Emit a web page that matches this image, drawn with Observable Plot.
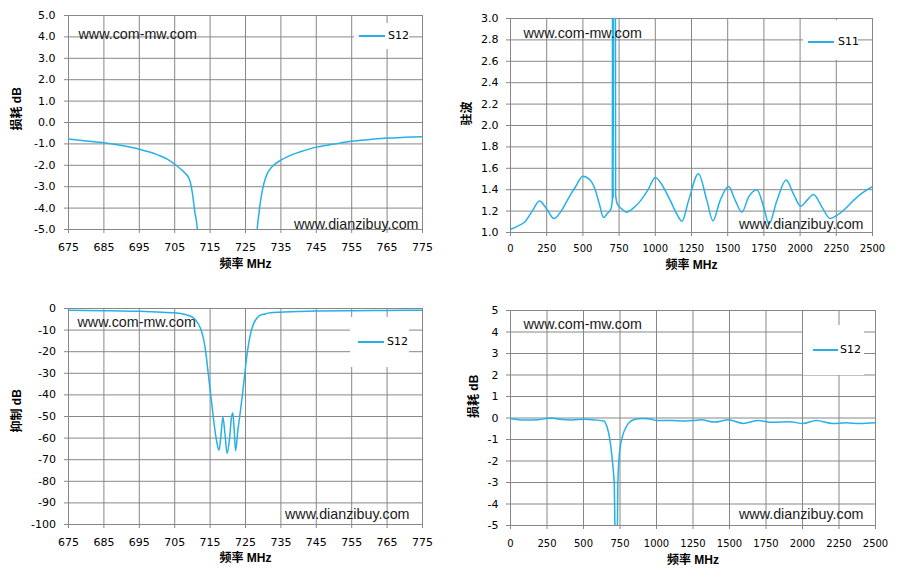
<!DOCTYPE html>
<html>
<head>
<meta charset="utf-8">
<script src="https://cdn.jsdelivr.net/npm/d3@7"></script>
<script src="https://cdn.jsdelivr.net/npm/@observablehq/plot@0.6"></script>
<style>
  body { margin: 0; background: #fff; }
  #wrap { position: relative; width: 898px; height: 583px; overflow: hidden; background: #fff; }
  .panel { position: absolute; }
  .legend { position: absolute; background: #fff; }
  .legend .ln { position: absolute; height: 1.5px; }
  .legend .lt { position: absolute; font: 11px "DejaVu Sans", sans-serif; color: #000; line-height: 12px; }
</style>
</head>
<body>
<div id="wrap"></div>
<script>
// ---------- data ----------
// Panel 1: S12 loss, zoomed (675–775 MHz, -5..5 dB)
const p1Freq = [675, 680, 685, 690, 695, 700, 703, 705, 707, 708, 709, 709.5, 710, 710.7, 711.4, 712, 713, 715, 720, 725, 727, 728, 728.3, 728.8, 729.4, 730.2, 731.1, 732.5, 735, 737.5, 740.5, 745, 750, 755, 760, 765, 770, 775];
const p1Loss = [-0.77, -0.86, -0.95, -1.08, -1.25, -1.5, -1.72, -1.95, -2.22, -2.38, -2.6, -2.85, -3.3, -4.2, -5.0, -7, -11, -30, -67, -30, -10, -6, -5.0, -4.25, -3.5, -2.85, -2.4, -2.07, -1.76, -1.55, -1.37, -1.15, -1.01, -0.88, -0.8, -0.73, -0.69, -0.66];
const p1XTicks = [675, 685, 695, 705, 715, 725, 735, 745, 755, 765, 775];
const p1YTicks = [-5, -4, -3, -2, -1, 0, 1, 2, 3, 4, 5];

// Panel 2: S11 VSWR (0–2500 MHz)
const p2Freq = [0, 50, 100, 150, 200, 250, 300, 350, 400, 450, 500, 550, 585, 615, 642, 670, 693, 703, 705.5, 709, 712, 724, 726, 740, 770, 800, 850, 900, 950, 1000, 1034, 1103, 1150, 1184, 1230, 1298, 1356, 1398, 1448, 1506, 1552, 1598, 1644, 1702, 1748, 1785, 1840, 1904, 1954, 2005, 2047, 2093, 2150, 2208, 2254, 2310, 2369, 2430, 2500];
const p2Vswr = [1.03, 1.06, 1.10, 1.20, 1.295, 1.22, 1.13, 1.20, 1.32, 1.43, 1.525, 1.49, 1.40, 1.26, 1.14, 1.18, 1.22, 1.30, 4.0, 1.32, 4.0, 4.0, 1.35, 1.26, 1.22, 1.19, 1.23, 1.30, 1.40, 1.515, 1.47, 1.30, 1.17, 1.105, 1.30, 1.55, 1.30, 1.11, 1.30, 1.43, 1.30, 1.19, 1.33, 1.40, 1.24, 1.08, 1.30, 1.49, 1.36, 1.245, 1.30, 1.355, 1.24, 1.13, 1.16, 1.22, 1.30, 1.37, 1.43];
const p2XTicks = [0, 250, 500, 750, 1000, 1250, 1500, 1750, 2000, 2250, 2500];
const p2YTicks = [1.0, 1.2, 1.4, 1.6, 1.8, 2.0, 2.2, 2.4, 2.6, 2.8, 3.0];

// Panel 3: S12 rejection (675–775 MHz, -100..0 dB)
const p3Freq = [675, 685, 695, 700, 705, 708, 710, 711, 712.3, 713, 713.7, 714.4, 715.1, 715.6, 716.1, 716.8, 717.5, 718.0, 718.6, 719.2, 719.8, 720.5, 721.0, 721.4, 721.8, 722.2, 722.8, 723.6, 724.2, 724.7, 725.3, 725.9, 726.6, 727.3, 728.2, 729.2, 730.5, 732, 735, 740, 745, 755, 765, 775];
const p3Rej = [-0.8, -1.0, -1.3, -1.6, -2.0, -2.8, -4.0, -5.5, -9.3, -13, -19.3, -29, -39, -46, -53, -61, -65.6, -60, -50.2, -58, -67.1, -60, -51, -48.3, -56, -65.9, -57, -47, -39, -31.7, -23, -16.2, -10.5, -7, -4.5, -3.1, -2.5, -2.0, -1.7, -1.4, -1.2, -1.0, -0.9, -0.8];
const p3XTicks = p1XTicks;
const p3YTicks = [-100, -90, -80, -70, -60, -50, -40, -30, -20, -10, 0];

// Panel 4: S12 loss wideband (0–2500 MHz, -5..5 dB)
const p4Freq = [0, 98, 190, 281, 338, 418, 509, 578, 642, 660, 675, 693, 705, 711, 716, 720, 728, 732, 735, 746, 772, 790, 806, 852, 909, 966, 1000, 1103, 1194, 1251, 1307, 1398, 1491, 1593, 1696, 1798, 1911, 2003, 2094, 2207, 2298, 2389, 2500];
const p4Loss = [-0.03, -0.09, -0.08, 0.0, -0.06, -0.09, -0.06, -0.09, -0.15, -0.4, -0.8, -1.67, -2.5, -3.1, -5.5, -8, -8, -5.5, -3.07, -1.67, -0.74, -0.45, -0.26, -0.06, -0.02, -0.06, -0.12, -0.12, -0.14, -0.12, -0.08, -0.19, -0.08, -0.25, -0.12, -0.2, -0.17, -0.26, -0.12, -0.26, -0.22, -0.26, -0.22];
const p4XTicks = p2XTicks;
const p4YTicks = [-5, -4, -3, -2, -1, 0, 1, 2, 3, 4, 5];

const xTitle = "频率 MHz";
const wmTop = "www.com-mw.com";
const wmBottom = "www.dianzibuy.com";

// ---------- style ----------
const lineColor = "#25b1e7";
const gridColor = "#878787";
const tickFont = "DejaVu Sans, sans-serif";
const cjkBold = "Liberation Sans, Noto Sans CJK SC, sans-serif";

function panel(o) {
  const rows = o.freq.map((f, i) => ({f, v: o.vals[i]}));
  const plot = Plot.plot({
    width: o.w, height: o.h,
    marginLeft: o.ml, marginRight: o.mr, marginTop: o.mt, marginBottom: o.mb,
    style: {fontFamily: tickFont, fontSize: "11px", background: "#fff", color: "#000", overflow: "visible"},
    x: {domain: o.xDomain, label: null},
    y: {domain: o.yDomain, label: null},
    marks: [
      Plot.gridX(o.xTicks, {stroke: gridColor, strokeOpacity: 1, strokeWidth: 1}),
      Plot.gridY(o.yTicks, {stroke: gridColor, strokeOpacity: 1, strokeWidth: 1}),
      Plot.axisX(o.xTicks, {tickSize: 4, tickPadding: o.xPad, stroke: gridColor, fill: "#000", fontSize: o.xFont, tickFormat: d => String(d), label: null}),
      Plot.axisY(o.yTicks, {tickSize: 4, tickPadding: o.yPad, stroke: gridColor, fill: "#000", fontSize: 11, tickFormat: o.yFmt, label: null}),
      Plot.line(rows, {x: "f", y: "v", stroke: lineColor, strokeWidth: 1.5, curve: "monotone-x", clip: true}),
      Plot.text([wmTop], {text: d => d, frameAnchor: "top-left", textAnchor: "start", dx: o.wa[0], dy: o.wa[1], fontFamily: "Liberation Sans, sans-serif", fontSize: 14.3, fill: "#1a1a1a"}),
      Plot.text([wmBottom], {text: d => d, frameAnchor: "bottom-right", textAnchor: "end", dx: o.wb[0], dy: o.wb[1], fontFamily: "Liberation Sans, sans-serif", fontSize: 14.3, fill: "#1a1a1a"}),
      Plot.text([xTitle], {text: d => d, frameAnchor: "bottom", dy: o.xt, fontFamily: cjkBold, fontWeight: "bold", fontSize: 12, fill: "#000"}),
      Plot.text([o.yTitle], {text: d => d, frameAnchor: "left", rotate: -90, dx: o.yt[0], dy: o.yt[1], fontFamily: cjkBold, fontWeight: "bold", fontSize: 12, fill: "#000"})
    ]
  });
  const div = document.createElement("div");
  div.className = "panel";
  div.style.left = o.left + "px";
  div.style.top = o.top + "px";
  div.appendChild(plot);
  document.getElementById("wrap").appendChild(div);
}

function legend(box, l) {
  const d = document.createElement("div");
  d.className = "legend";
  d.style.left = box[0] + "px"; d.style.top = box[1] + "px";
  d.style.width = box[2] + "px"; d.style.height = box[3] + "px";
  const ln = document.createElement("div");
  ln.className = "ln";
  ln.style.background = lineColor;
  ln.style.left = (l.x1 - box[0]) + "px";
  ln.style.width = (l.x2 - l.x1) + "px";
  ln.style.top = (l.y - box[1] - 0.75) + "px";
  const t = document.createElement("div");
  t.className = "lt";
  t.textContent = l.label;
  t.style.left = (l.tx - box[0]) + "px";
  t.style.top = (l.y - box[1] - 6.5) + "px";
  d.appendChild(ln); d.appendChild(t);
  document.getElementById("wrap").appendChild(d);
}

const f1 = d => d.toFixed(1);
const f0 = d => String(d);

panel({left: 0, top: 0, w: 449, h: 290, ml: 68, mr: 27, mt: 15, mb: 61,
  freq: p1Freq, vals: p1Loss, xDomain: [675, 775], yDomain: [-5, 5], xTicks: p1XTicks, yTicks: p1YTicks,
  yFmt: f1, xPad: 10, yPad: 9, xFont: 11, wa: [10, 13], wb: [-4, -1], xt: 38, yt: [-51, 8], yTitle: "损耗 dB"});

panel({left: 449, top: 0, w: 449, h: 290, ml: 61, mr: 26, mt: 18, mb: 58,
  freq: p2Freq, vals: p2Vswr, xDomain: [0, 2500], yDomain: [1.0, 3.0], xTicks: p2XTicks, yTicks: p2YTicks,
  yFmt: f1, xPad: 8, yPad: 8, xFont: 10, wa: [13, 9], wb: [-9, -4], xt: 36, yt: [-43, 0], yTitle: "驻波"});

panel({left: 0, top: 290, w: 449, h: 293, ml: 68, mr: 27, mt: 18, mb: 59,
  freq: p3Freq, vals: p3Rej, xDomain: [675, 775], yDomain: [-100, 0], xTicks: p3XTicks, yTicks: p3YTicks,
  yFmt: f0, xPad: 10, yPad: 8.5, xFont: 11, wa: [9, 8], wb: [-13, -6], xt: 37, yt: [-51, 16], yTitle: "抑制 dB"});

panel({left: 449, top: 290, w: 449, h: 293, ml: 61, mr: 23, mt: 20, mb: 58,
  freq: p4Freq, vals: p4Loss, xDomain: [0, 2500], yDomain: [-5, 5], xTicks: p4XTicks, yTicks: p4YTicks,
  yFmt: f0, xPad: 10, yPad: 8, xFont: 10, wa: [13, 8], wb: [-12, -7], xt: 38, yt: [-36, 0], yTitle: "损耗 dB"});

legend([354, 23, 55, 26], {x1: 359, x2: 385, y: 36, tx: 388, label: "S12"});
legend([803, 20, 55, 40], {x1: 808, x2: 834, y: 42, tx: 838, label: "S11"});
legend([350, 317, 59, 50], {x1: 358, x2: 384, y: 342, tx: 387, label: "S12"});
legend([803, 325, 61, 50], {x1: 813, x2: 838, y: 350, tx: 840, label: "S12"});
</script>
</body>
</html>
